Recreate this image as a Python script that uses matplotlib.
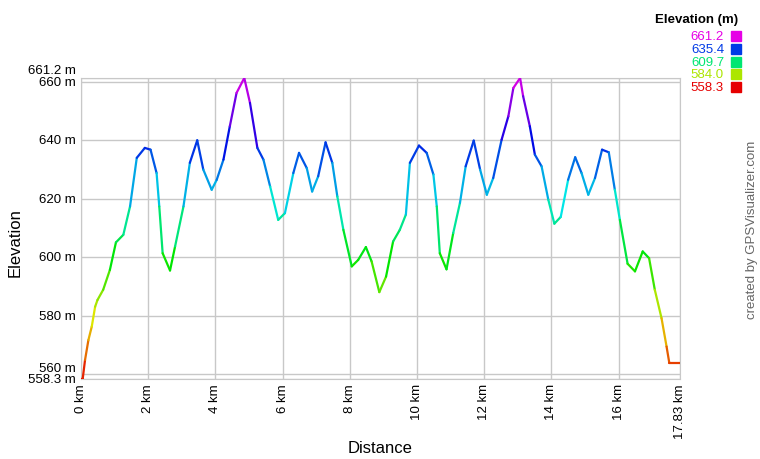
import numpy as np
import matplotlib
matplotlib.use("Agg")
import matplotlib.pyplot as plt
from matplotlib.collections import LineCollection
from matplotlib.colors import hsv_to_rgb

plt.rcParams['font.family'] = ['Liberation Sans', 'DejaVu Sans']

# distance (km) and elevation (m)
dist_km = [0.0, 0.05, 0.12, 0.22, 0.32, 0.42, 0.49, 0.66, 0.86, 1.04, 1.26, 1.46,
           1.66, 1.9, 2.07, 2.25, 2.33, 2.43, 2.65, 2.8, 3.05, 3.24, 3.46, 3.64,
           3.89, 4.04, 4.24, 4.43, 4.63, 4.86, 5.03, 5.25, 5.43, 5.63, 5.87, 6.07,
           6.32, 6.49, 6.72, 6.88, 7.06, 7.28, 7.48, 7.63, 7.81, 8.06, 8.25, 8.48,
           8.65, 8.88, 9.08, 9.29, 9.49, 9.67, 9.79, 10.06, 10.29, 10.49, 10.59,
           10.68, 10.88, 11.08, 11.28, 11.45, 11.69, 11.88, 12.08, 12.27, 12.52,
           12.72, 12.87, 13.07, 13.16, 13.36, 13.51, 13.71, 13.91, 14.09, 14.28,
           14.5, 14.71, 14.9, 15.1, 15.3, 15.51, 15.71, 15.89, 16.04, 16.27, 16.49,
           16.72, 16.91, 17.08, 17.28, 17.43, 17.51, 17.83]
elev_m = [558.3, 558.3, 564.8, 571.6, 576.2, 583.0, 585.3, 588.8, 595.6, 605.0, 607.6, 617.3,
          633.9, 637.3, 636.7, 628.7, 617.3, 601.3, 595.4, 603.6, 617.3, 632.2, 639.9, 629.9,
          623.0, 626.4, 633.3, 644.7, 656.1, 661.2, 652.7, 637.3, 633.3, 624.1, 612.7, 615.0,
          628.7, 635.6, 630.4, 622.4, 627.6, 639.2, 632.2, 620.7, 609.3, 596.8, 599.0, 603.4,
          598.5, 588.0, 593.3, 605.3, 609.3, 614.5, 632.2, 638.1, 635.6, 628.2, 617.3,
          601.3, 595.8, 608.2, 618.5, 631.0, 639.8, 629.9, 621.3, 627.0, 640.1,
          648.1, 657.8, 661.2, 655.0, 644.7, 635.0, 631.0, 619.6, 611.4, 613.7,
          626.4, 634.1, 628.7, 621.3, 627.0, 636.7, 635.8, 623.0, 612.7, 597.7, 595.1,
          601.9, 599.6, 588.8, 579.1, 569.4, 563.9, 563.9]

elev_min, elev_max = 558.3, 661.2
dist_max = 17.83
legend_vals = [661.2, 635.4, 609.7, 584.0, 558.3]
x_ticks = [0, 2, 4, 6, 8, 10, 12, 14, 16, 17.83]
x_labels = ['0 km', '2 km', '4 km', '6 km', '8 km', '10 km', '12 km', '14 km', '16 km', '17.83 km']
y_ticks = [558.3, 560, 580, 600, 620, 640, 660, 661.2]
y_labels = ['558.3 m', '560 m', '580 m', '600 m', '620 m', '640 m', '660 m', '661.2 m']
# small vertical nudges (points) so the crowded end labels don't collide
y_nudge = [0, 4, 0, 0, 0, 0, 0, 6]


def elev_color(v):
    # hue runs red -> yellow -> green -> cyan -> blue -> magenta
    f = (v - elev_min) / (elev_max - elev_min)
    f = min(max(f, 0), 1)
    return hsv_to_rgb([f * 300 / 360, 1.0, 0.9])


fig = plt.figure(figsize=(7.6, 4.6), dpi=100)
ax = fig.add_axes([81 / 760, 1 - 380 / 460, (680 - 81) / 760, (380 - 79) / 460])

x = np.array(dist_km)
y = np.array(elev_m)
pts = np.column_stack([x, y]).reshape(-1, 1, 2)
segs = np.concatenate([pts[:-1], pts[1:]], axis=1)
cols = [elev_color((a + b) / 2) for a, b in zip(y[:-1], y[1:])]
lc = LineCollection(segs, colors=cols, linewidth=1.6, capstyle='round', zorder=3)
ax.add_collection(lc)

ax.set_xlim(0, dist_max)
ax.set_ylim(elev_min, elev_max)

ax.set_xticks(x_ticks)
ax.set_xticklabels(x_labels, rotation=90, fontsize=9.5)
ax.set_yticks(y_ticks)
ax.set_yticklabels([])
ax.tick_params(length=0, pad=3, colors='black')
for val, lab, dy in zip(y_ticks, y_labels, y_nudge):
    ax.annotate(lab, xy=(0, val), xycoords=('axes fraction', 'data'),
                xytext=(-4, dy), textcoords='offset points',
                ha='right', va='center', fontsize=9.5)

ax.grid(True, color='#c8c8c8', linewidth=1)
ax.set_axisbelow(True)
for s in ax.spines.values():
    s.set_color('#c8c8c8')

fig.text(380 / 760, 1 - 449 / 460, 'Distance', ha='center', va='center', fontsize=12)
fig.text(15 / 760, 1 - 243 / 460, 'Elevation', ha='center', va='center',
         rotation=90, fontsize=12)

# colour legend in the top-right corner
fig.text(738 / 760, 1 - 20 / 460, 'Elevation (m)', ha='right', va='center',
         fontsize=9.5, fontweight='bold')
for i, v in enumerate(legend_vals):
    yy = 1 - (37 + i * 12.8) / 460
    c = elev_color(v)
    fig.text(724 / 760, yy, f'{v:.1f}', ha='right', va='center', fontsize=9.5, color=c)
    fig.patches.append(plt.Rectangle((731 / 760, yy - 5 / 460), 10 / 760, 10 / 460,
                                     transform=fig.transFigure, color=c, figure=fig))

fig.text(752 / 760, 1 - 230 / 460, 'created by GPSVisualizer.com', rotation=90,
         ha='center', va='center', fontsize=9.5, color='#666666')

fig.savefig('out.png', dpi=100)
